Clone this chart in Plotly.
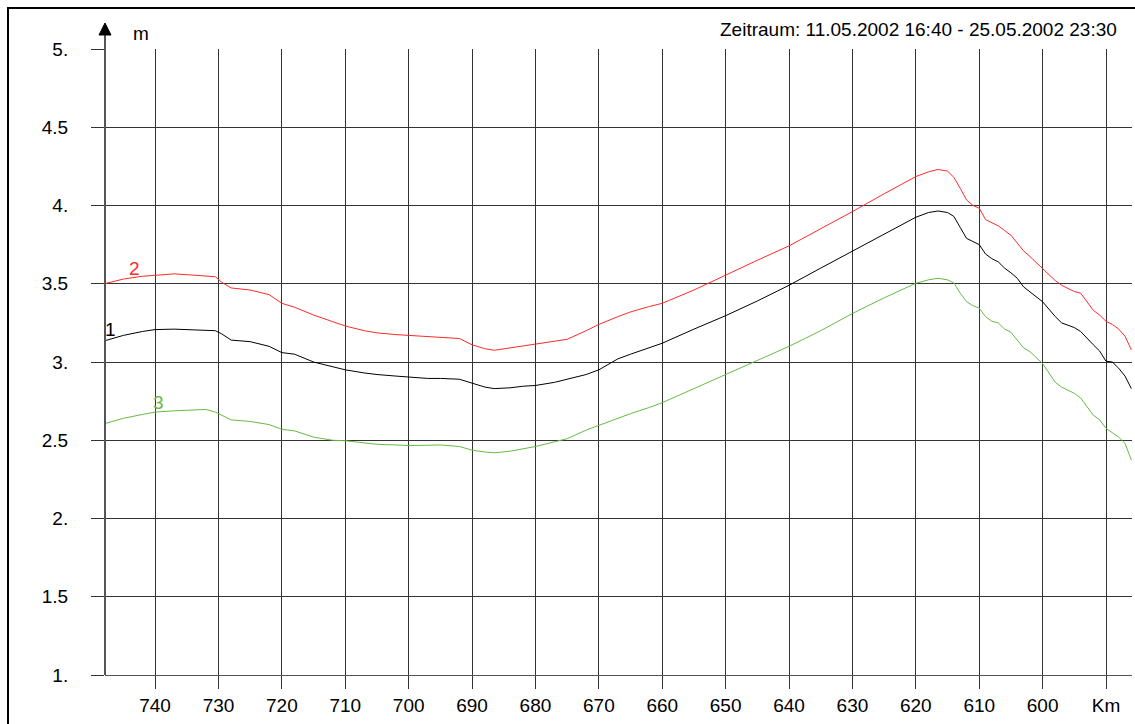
import plotly.graph_objects as go

# ---- data ----
km = [748, 745, 742, 740, 737, 734, 732, 730.5, 729.5, 728, 725, 722, 720, 718, 715, 712, 710,
      707, 705, 702, 700, 697, 695, 692, 690, 688, 686.5, 684, 682, 680, 677, 675, 672, 670,
      667, 665, 662, 660, 655, 650, 645, 640, 635, 630, 625, 620, 618, 616.5, 615, 614, 613,
      612, 611, 610, 609, 608, 607, 606, 605, 604, 603, 602, 601, 600, 598, 597, 595, 594,
      592, 591, 590, 589, 588, 587, 586]

series1 = [3.135, 3.17, 3.195, 3.207, 3.21, 3.205, 3.2, 3.2, 3.18, 3.14, 3.13, 3.10, 3.06, 3.05,
           3.0, 2.97, 2.95, 2.93, 2.92, 2.91, 2.905, 2.895, 2.895, 2.89, 2.865, 2.84, 2.83, 2.835,
           2.845, 2.85, 2.87, 2.89, 2.92, 2.95, 3.02, 3.05, 3.095, 3.12, 3.21, 3.296, 3.39, 3.49,
           3.6, 3.71, 3.82, 3.925, 3.955, 3.965, 3.955, 3.93, 3.86, 3.79, 3.77, 3.75, 3.69, 3.66,
           3.64, 3.6, 3.57, 3.535, 3.48, 3.45, 3.42, 3.385, 3.29, 3.25, 3.22, 3.195, 3.11, 3.07,
           3.005, 3.0, 2.96, 2.91, 2.83]

series2 = [3.5, 3.53, 3.548, 3.553, 3.563, 3.555, 3.55, 3.545, 3.51, 3.473, 3.46, 3.43, 3.375,
           3.35, 3.3, 3.26, 3.23, 3.2, 3.186, 3.175, 3.17, 3.16, 3.153, 3.15, 3.11, 3.085, 3.075,
           3.09, 3.105, 3.117, 3.135, 3.145, 3.2, 3.24, 3.29, 3.32, 3.355, 3.375, 3.46, 3.556,
           3.65, 3.742, 3.85, 3.961, 4.075, 4.185, 4.215, 4.23, 4.22, 4.18, 4.11, 4.036, 4.0,
           3.983, 3.91, 3.89, 3.87, 3.84, 3.81, 3.76, 3.71, 3.674, 3.635, 3.6, 3.52, 3.49, 3.45,
           3.44, 3.33, 3.3, 3.26, 3.24, 3.21, 3.165, 3.077]

series3 = [2.606, 2.64, 2.665, 2.68, 2.688, 2.693, 2.697, 2.68, 2.66, 2.63, 2.62, 2.6, 2.57,
           2.56, 2.52, 2.5, 2.497, 2.485, 2.474, 2.47, 2.466, 2.468, 2.47, 2.46, 2.437, 2.425,
           2.42, 2.43, 2.445, 2.46, 2.49, 2.51, 2.565, 2.596, 2.64, 2.67, 2.71, 2.74, 2.83, 2.92,
           3.01, 3.1, 3.2, 3.31, 3.41, 3.503, 3.525, 3.535, 3.525, 3.505, 3.44, 3.386, 3.36,
           3.344, 3.29, 3.26, 3.25, 3.21, 3.19, 3.14, 3.09, 3.066, 3.03, 2.99, 2.87, 2.84, 2.8,
           2.77, 2.66, 2.63, 2.576, 2.55, 2.52, 2.48, 2.373]

x_tickvals = [740, 730, 720, 710, 700, 690, 680, 670, 660, 650, 640, 630, 620, 610, 600, 590]
x_ticktext = ["740", "730", "720", "710", "700", "690", "680", "670", "660", "650", "640",
              "630", "620", "610", "600", "Km"]
y_tickvals = [1, 1.5, 2, 2.5, 3, 3.5, 4, 4.5, 5]
y_ticktext = ["1.", "1.5", "2.", "2.5", "3.", "3.5", "4.", "4.5", "5."]

title_text = "Zeitraum: 11.05.2002 16:40 - 25.05.2002 23:30"

RED = "#ff2a2a"
GREEN = "#66bb44"
BLACK = "#000000"
GRID = "#333333"
FONT = "Liberation Sans, Arial, sans-serif"
FS = 19

fig = go.Figure()
for vals, col, lab, lx, ly in [
    (series1, BLACK, "1", 747.1, 3.21),
    (series2, RED, "2", 743.3, 3.60),
    (series3, GREEN, "3", 739.5, 2.74),
]:
    fig.add_trace(go.Scatter(x=km, y=vals, mode="lines",
                             line=dict(color=col, width=1), showlegend=False,
                             hoverinfo="skip"))
    fig.add_annotation(x=lx, y=ly, xref="x", yref="y", text=lab, showarrow=False,
                       font=dict(family=FONT, size=FS, color=col))

W, H = 1135, 724
L, R, T, B = 105, 3, 49, 49

fig.update_layout(
    width=W, height=H,
    margin=dict(l=L, r=R, t=T, b=B, pad=0),
    paper_bgcolor="white", plot_bgcolor="white",
    font=dict(family=FONT, size=FS, color="black"),
    xaxis=dict(range=[747.9, 585.9], tickvals=x_tickvals, ticktext=x_ticktext,
               showgrid=True, gridcolor=GRID, gridwidth=1, zeroline=False,
               ticks="outside", ticklen=13, tickcolor=GRID, tickwidth=1,
               showline=True, linecolor="#555555", linewidth=1,
               tickfont=dict(size=FS), ticklabelstandoff=0),
    yaxis=dict(range=[1, 5], tickvals=y_tickvals, ticktext=y_ticktext,
               showgrid=True, gridcolor=GRID, gridwidth=1, zeroline=False,
               ticks="outside", ticklen=13, tickcolor=GRID, tickwidth=1,
               showline=False, tickfont=dict(size=FS), ticklabelstandoff=19),
)

ph = H - T - B
pw = W - L - R

def py(pix):
    return 1 - (pix - T) / ph

def px(pix):
    return (pix - L) / pw

# y axis line with arrow
fig.add_shape(type="line", xref="paper", yref="paper", x0=0, x1=0, y0=0, y1=py(30),
              line=dict(color="#555555", width=2))
fig.add_shape(type="path", xref="paper", yref="paper",
              path=f"M {px(99)} {py(35)} L {px(111)} {py(35)} L {px(105)} {py(23)} Z",
              fillcolor="black", line=dict(color="black", width=1))
# outer frame
fig.add_shape(type="rect", xref="paper", yref="paper",
              x0=px(8), x1=px(1140), y0=py(730), y1=py(8),
              line=dict(color="black", width=2))

fig.add_annotation(xref="paper", yref="paper", x=px(131), y=py(33), text="m",
                   showarrow=False, xanchor="left", yanchor="middle",
                   font=dict(family=FONT, size=FS))
fig.add_annotation(xref="paper", yref="paper", x=px(1119), y=py(30), text=title_text,
                   showarrow=False, xanchor="right", yanchor="middle",
                   font=dict(family=FONT, size=FS))

fig.write_html("out.html")
